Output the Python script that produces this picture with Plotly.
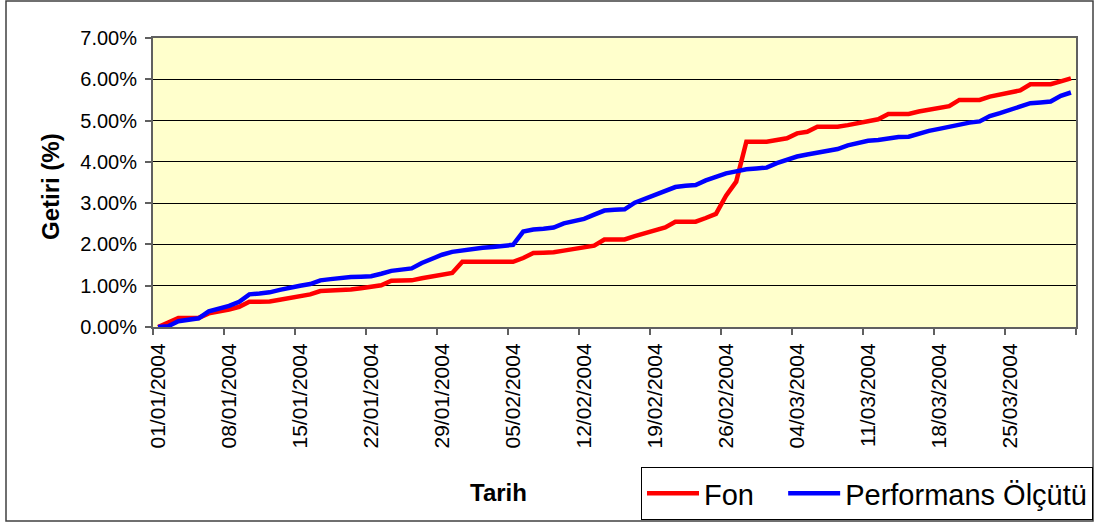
import pandas as pd
import plotly.graph_objects as go

# Daily dates 01/01/2004 .. 31/03/2004
dates = pd.date_range("2004-01-01", "2004-03-31", freq="D")

# Cumulative return (%) - Fon
fon = [0.00, 0.10, 0.22, 0.22, 0.22, 0.33, 0.37, 0.42, 0.49, 0.61,
       0.61, 0.62, 0.66, 0.71, 0.74, 0.79, 0.87, 0.88, 0.88, 0.91,
       0.94, 0.97, 1.01, 1.12, 1.12, 1.13, 1.18, 1.22, 1.27, 1.31,
       1.58, 1.58, 1.58, 1.58, 1.58, 1.58, 1.67, 1.79, 1.80, 1.81,
       1.85, 1.89, 1.93, 1.97, 2.12, 2.12, 2.12, 2.20, 2.27, 2.34,
       2.41, 2.55, 2.55, 2.55, 2.64, 2.74, 3.18, 3.52, 4.49, 4.49,
       4.49, 4.53, 4.57, 4.69, 4.73, 4.85, 4.85, 4.85, 4.89, 4.94,
       4.99, 5.03, 5.16, 5.16, 5.16, 5.22, 5.26, 5.30, 5.35, 5.50,
       5.50, 5.50, 5.58, 5.63, 5.68, 5.73, 5.88, 5.88, 5.88, 5.95,
       6.02]

# Cumulative return (%) - Performans Ölçütü (benchmark)
perf = [0.00, 0.02, 0.14, 0.18, 0.21, 0.38, 0.44, 0.51, 0.61, 0.79,
        0.81, 0.84, 0.90, 0.96, 1.00, 1.04, 1.13, 1.16, 1.19, 1.21,
        1.22, 1.23, 1.29, 1.36, 1.39, 1.42, 1.55, 1.66, 1.75, 1.82,
        1.86, 1.89, 1.92, 1.94, 1.96, 1.99, 2.31, 2.36, 2.38, 2.41,
        2.51, 2.57, 2.62, 2.72, 2.82, 2.84, 2.85, 3.01, 3.10, 3.20,
        3.28, 3.39, 3.42, 3.44, 3.55, 3.63, 3.72, 3.77, 3.82, 3.84,
        3.86, 3.97, 4.05, 4.13, 4.18, 4.23, 4.28, 4.31, 4.40, 4.46,
        4.51, 4.53, 4.57, 4.60, 4.61, 4.69, 4.75, 4.80, 4.85, 4.92,
        4.95, 4.98, 5.11, 5.18, 5.26, 5.32, 5.42, 5.44, 5.46, 5.60,
        5.68]

series_names = ["Fon", "Performans Ölçütü"]

tick_dates = ["2004-01-01", "2004-01-08", "2004-01-15", "2004-01-22",
              "2004-01-29", "2004-02-05", "2004-02-12", "2004-02-19",
              "2004-02-26", "2004-03-04", "2004-03-11", "2004-03-18",
              "2004-03-25", "2004-04-01"]
tick_labels = ["01/01/2004", "08/01/2004", "15/01/2004", "22/01/2004",
               "29/01/2004", "05/02/2004", "12/02/2004", "19/02/2004",
               "26/02/2004", "04/03/2004", "11/03/2004", "18/03/2004",
               "25/03/2004", ""]

y_ticks = [0, 1, 2, 3, 4, 5, 6, 7]
y_labels = ["%.2f%%" % v for v in y_ticks]

half_day = pd.Timedelta(hours=12)
tickvals = [pd.Timestamp(d) - half_day for d in tick_dates]

FONT = "Arial, Liberation Sans, sans-serif"
NBSP = "\u00a0"

fig = go.Figure()
fig.add_trace(go.Scatter(x=dates, y=fon, mode="lines", name=series_names[0] + NBSP * 3,
                         line=dict(color="#FF0000", width=4.5)))
fig.add_trace(go.Scatter(x=dates, y=perf, mode="lines", name=series_names[1],
                         line=dict(color="#0000FF", width=4.5)))

W, H = 1098, 523
L, R, T, B = 153, 22, 38, 196
pw, ph = W - L - R, H - T - B

def px(x):
    return (x - L) / pw

def py(y):
    return (H - B - y) / ph

fig.update_layout(
    width=W, height=H,
    margin=dict(l=L, r=R, t=T, b=B, autoexpand=False),
    paper_bgcolor="white",
    plot_bgcolor="#FFFFCC",
    font=dict(family=FONT, color="black"),
    showlegend=True,
    legend=dict(
        orientation="h",
        x=px(1093), xanchor="right",
        y=py(520), yanchor="bottom",
        bgcolor="white", bordercolor="black", borderwidth=1,
        font=dict(size=29, family=FONT, color="black"),
        itemwidth=52,
        tracegroupgap=0,
    ),
    xaxis=dict(
        type="date",
        range=[pd.Timestamp("2004-01-01") - half_day, pd.Timestamp("2004-04-01") - half_day],
        tickvals=tickvals, ticktext=tick_labels,
        tickangle=-90,
        ticks="outside", ticklen=6, tickcolor="#606060", tickwidth=1.5,
        ticklabelshift=5,
        tickfont=dict(size=21, family=FONT, color="black"),
        showgrid=False, zeroline=False,
        showline=True, linecolor="#606060", linewidth=2, mirror=True,
    ),
    yaxis=dict(
        range=[0, 7],
        tickvals=y_ticks, ticktext=y_labels,
        ticks="outside", ticklen=6, tickcolor="#606060", tickwidth=1.5,
        ticklabelstandoff=4,
        tickfont=dict(size=20, family=FONT, color="black"),
        showgrid=True, gridcolor="black", gridwidth=1,
        zeroline=False,
        showline=True, linecolor="#606060", linewidth=2, mirror=True,
    ),
    annotations=[
        dict(text="<b>Getiri (%)</b>", xref="paper", yref="paper",
             x=px(50), y=py(187), xanchor="center", yanchor="middle",
             textangle=-90, showarrow=False,
             font=dict(size=24, family=FONT, color="black")),
        dict(text="<b>Tarih</b>", xref="paper", yref="paper",
             x=px(498), y=py(492), xanchor="center", yanchor="middle",
             showarrow=False,
             font=dict(size=24, family=FONT, color="black")),
    ],
    shapes=[
        dict(type="rect", xref="paper", yref="paper",
             x0=px(6), x1=px(1093), y0=py(521), y1=py(1),
             line=dict(color="#404040", width=1.5), layer="below"),
    ],
)

fig.write_html("out.html", config={"displayModeBar": False},
               post_script="document.body.style.margin='0px';document.body.style.padding='0px';")
